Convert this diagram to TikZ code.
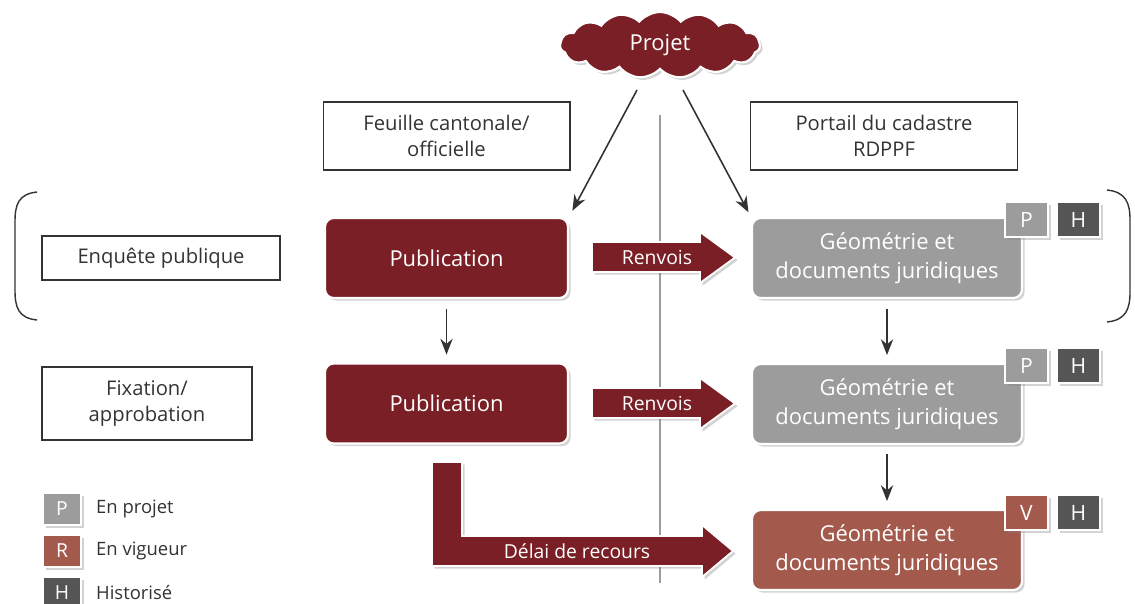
\documentclass[tikz,border=0pt]{standalone}
\usepackage{fontspec}
\setmainfont{Open Sans}
\usetikzlibrary{shapes.symbols,arrows.meta,shadows}
\definecolor{bordeaux}{HTML}{7A1F25}
\definecolor{grisclair}{HTML}{9C9C9C}
\definecolor{grisfonce}{HTML}{555555}
\definecolor{rouille}{HTML}{A35A4D}
\definecolor{encre}{HTML}{333333}
\tikzset{
  ombre/.style={drop shadow={shadow xshift=1.5pt,shadow yshift=-1.5pt,opacity=.35}},
  cadre/.style={draw=encre,line width=.6pt,text=encre,align=center,font=\fontsize{11.5}{14.5}\selectfont},
  bloc/.style={rounded corners=5pt,draw=white,line width=1.2pt,text=white,align=center,ombre,font=\fontsize{12.5}{16.5}\selectfont},
  pub/.style={bloc,fill=bordeaux,minimum width=4.86cm,minimum height=1.6cm},
  geo/.style={bloc,fill=grisclair,minimum width=5.4cm,minimum height=1.6cm},
  etiq/.style={draw=white,line width=.8pt,text=white,inner sep=0pt,minimum width=.86cm,minimum height=.7cm,ombre,font=\fontsize{12}{12}\selectfont},
  legende/.style={etiq,minimum width=.76cm,minimum height=.64cm,font=\fontsize{11}{11}\selectfont},
  texteleg/.style={anchor=west,text=encre,font=\fontsize{10.5}{12}\selectfont},
  fleche/.style={encre,line width=.9pt,-{Stealth[length=9pt,width=7pt]}},
  grosse/.style={fill=bordeaux,draw=white,line width=1pt,ombre},
  texteflech/.style={text=white,font=\fontsize{11}{13}\selectfont},
}
\begin{document}
\begin{tikzpicture}[x=0.02cm,y=-0.02cm]
\useasboundingbox (0,0) rectangle (1135,603);

%nuage et colonnes
\node[cloud,cloud puffs=15,cloud puff arc=100,aspect=3.4,fill=bordeaux,draw=white,line width=1.2pt,ombre,
  minimum width=4cm,minimum height=1.32cm,text=white,font=\fontsize{12.5}{15}\selectfont] (projet) at (660,45) {Projet};
\draw[grisclair,line width=1pt] (660,115) -- (660,583);
\node[cadre,minimum width=4.94cm,minimum height=1.36cm] (feuille) at (446.5,136) {Feuille cantonale/\\officielle};
\node[cadre,minimum width=5.34cm,minimum height=1.36cm] (portail) at (884,136) {Portail du cadastre\\RDPPF};

%etapes
\node[cadre,minimum width=4.76cm,minimum height=.88cm] (enquete) at (161,258) {Enquête publique};
\node[cadre,minimum width=4.2cm,minimum height=1.46cm] (fixation) at (147,403.5) {Fixation/\\approbation};
\draw[encre,line width=.8pt] (37,192) .. controls (18,194) and (15,205) .. (15,222) -- (15,290) .. controls (15,307) and (18,318) .. (37,320);
\draw[encre,line width=.8pt] (1107,190) .. controls (1126,192) and (1130,203) .. (1130,220) -- (1130,292) .. controls (1130,309) and (1126,320) .. (1107,322);

%publications
\node[pub] (pub1) at (446.5,258) {Publication};
\node[pub] (pub2) at (446.5,403.5) {Publication};

%renvois
\fill[grosse] (592,242) -- (700,242) -- (700,232) -- (735,257.5) -- (700,283) -- (700,272) -- (592,272) -- cycle;
\node[texteflech] (renvois1) at (657,257) {Renvois};
\fill[grosse] (592,388) -- (700,388) -- (700,378) -- (735,403.5) -- (700,429) -- (700,418) -- (592,418) -- cycle;
\node[texteflech] (renvois2) at (657,403) {Renvois};
\fill[grosse] (432,462) -- (462,462) -- (462,536) -- (702,536) -- (702,525) -- (733,551) -- (702,577) -- (702,566) -- (432,566) -- cycle;
\node[texteflech] (delai) at (577,551) {Délai de recours};

%geometrie
\node[geo] (geo1) at (887,258) {Géométrie et\\documents juridiques};
\node[geo] (geo2) at (887,404) {Géométrie et\\documents juridiques};
\node[geo,fill=rouille] (geo3) at (887,550) {Géométrie et\\documents juridiques};
\node[etiq,fill=grisclair] (p1) at (1026.5,219.5) {P};
\node[etiq,fill=grisfonce] (h1) at (1078.5,219.5) {H};
\node[etiq,fill=grisclair] (p2) at (1026.5,365.5) {P};
\node[etiq,fill=grisfonce] (h2) at (1078.5,365.5) {H};
\node[etiq,fill=rouille] (v3) at (1026.5,512.5) {V};
\node[etiq,fill=grisfonce] (h3) at (1078.5,512.5) {H};

%fleches
\coordinate (d1) at (637,90);
\coordinate (d2) at (683,90);
\draw[fleche,shorten >=4pt] (d1) -- (pub1.north east);
\draw[fleche,shorten >=3pt] (d2) -- (geo1.north west);
\draw[fleche,shorten <=5.5pt,shorten >=4.5pt] (pub1) -- (pub2);
\draw[fleche,shorten <=5.5pt,shorten >=4.5pt] (geo1) -- (geo2);
\draw[fleche,shorten <=5pt,shorten >=4.5pt] (geo2) -- (geo3);

%legende
\node[legende,fill=grisclair] (lp) at (62,509) {P};
\node[texteleg] (tp) at (90,509) {En projet};
\node[legende,fill=rouille] (lr) at (62,551) {R};
\node[texteleg] (tr) at (90,551) {En vigueur};
\node[legende,fill=grisfonce] (lh) at (62,593) {H};
\node[texteleg] (th) at (90,593) {Historisé};
\end{tikzpicture}
\end{document}
